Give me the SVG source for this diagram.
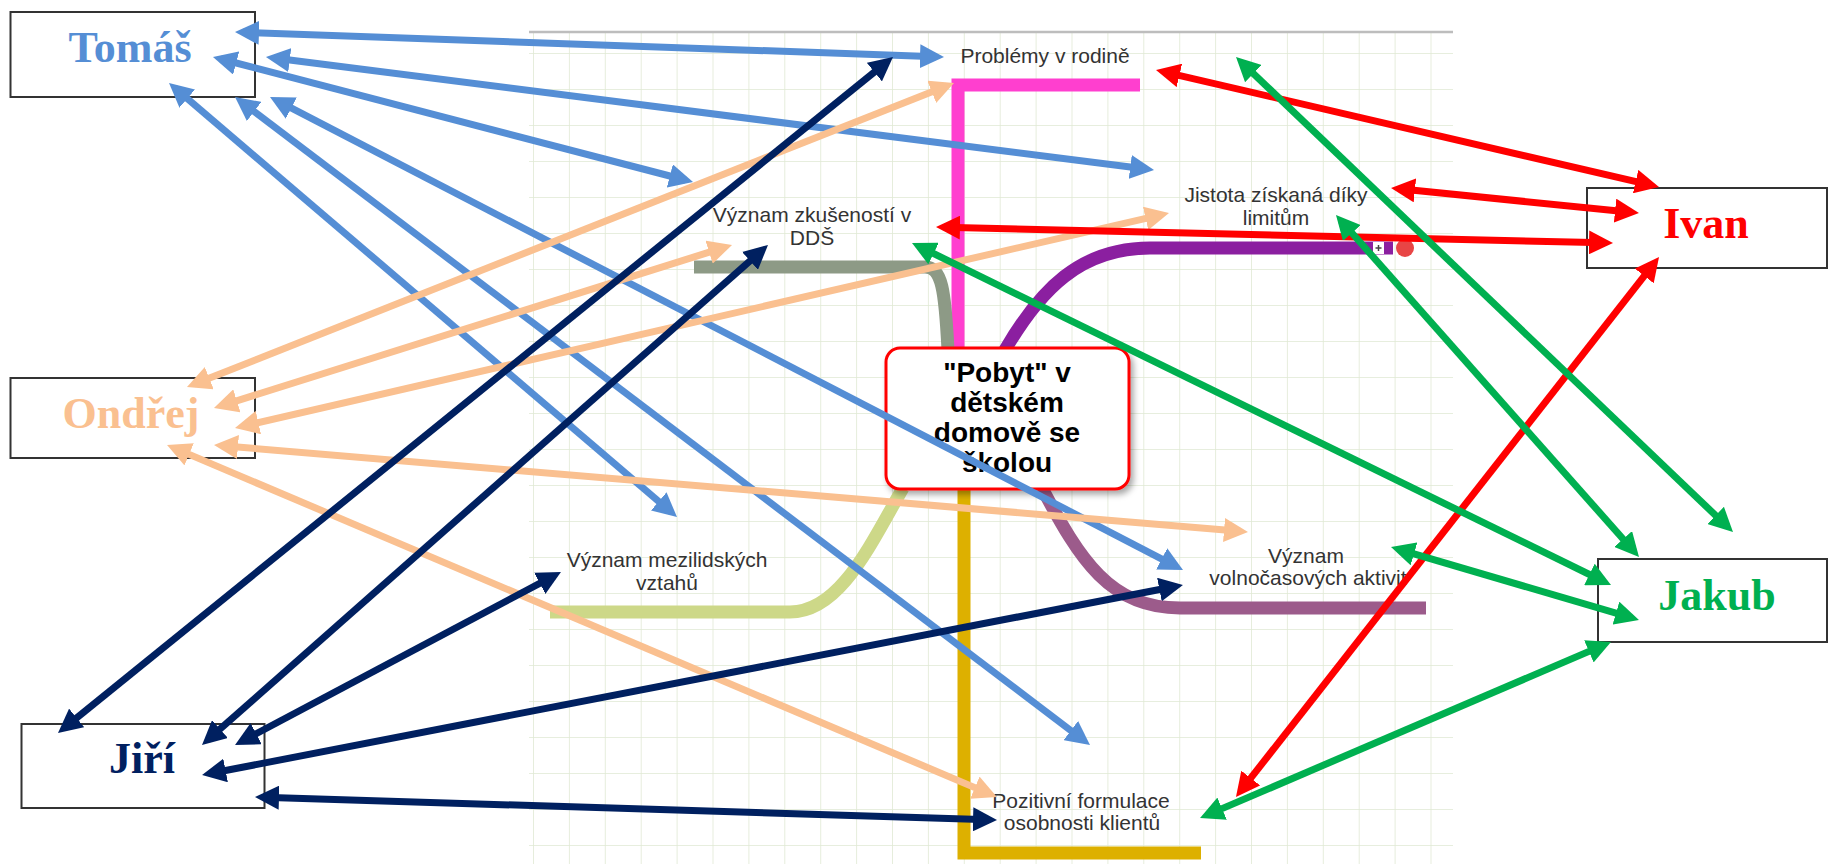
<svg xmlns="http://www.w3.org/2000/svg" width="1829" height="864" viewBox="0 0 1829 864">
<style>
.name{font-family:"Liberation Serif","Times New Roman",serif;font-weight:bold;font-size:44px;text-anchor:middle}
.nbox{fill:#fff;stroke:#333;stroke-width:2}
.lbl{font-family:"Liberation Sans",Arial,sans-serif;font-size:21px;fill:#333;text-anchor:middle}
.mm{fill:none;stroke-width:13}
.c{fill:none;stroke-width:7}
.blue{stroke:#558ED5;marker-start:url(#mB);marker-end:url(#mB)}
.peach{stroke:#FAC090;marker-start:url(#mP);marker-end:url(#mP)}
.navy{stroke:#002060;marker-start:url(#mN);marker-end:url(#mN)}
.red{stroke:#FF0000;marker-start:url(#mR);marker-end:url(#mR)}
.green{stroke:#00B050;marker-start:url(#mG);marker-end:url(#mG)}
.ctr{font-family:"Liberation Sans",Arial,sans-serif;font-weight:bold;font-size:28px;fill:#000;text-anchor:middle}
</style>
<defs>
<pattern id="grid" x="533" y="53" width="35.9" height="36" patternUnits="userSpaceOnUse">
<path d="M0,0 V36 M0,0 H35.9" stroke="#e0e9d4" stroke-width="1.6" fill="none"/>
</pattern>
<marker id="mB" markerUnits="userSpaceOnUse" markerWidth="24" markerHeight="24" refX="16" refY="12" orient="auto-start-reverse"><path d="M0,0 L24,12 L0,24 z" fill="#558ED5"/></marker>
<marker id="mP" markerUnits="userSpaceOnUse" markerWidth="24" markerHeight="24" refX="16" refY="12" orient="auto-start-reverse"><path d="M0,0 L24,12 L0,24 z" fill="#FAC090"/></marker>
<marker id="mN" markerUnits="userSpaceOnUse" markerWidth="24" markerHeight="24" refX="16" refY="12" orient="auto-start-reverse"><path d="M0,0 L24,12 L0,24 z" fill="#002060"/></marker>
<marker id="mR" markerUnits="userSpaceOnUse" markerWidth="24" markerHeight="24" refX="16" refY="12" orient="auto-start-reverse"><path d="M0,0 L24,12 L0,24 z" fill="#FF0000"/></marker>
<marker id="mG" markerUnits="userSpaceOnUse" markerWidth="24" markerHeight="24" refX="16" refY="12" orient="auto-start-reverse"><path d="M0,0 L24,12 L0,24 z" fill="#00B050"/></marker>
<filter id="sh" x="-10%" y="-10%" width="125%" height="130%"><feDropShadow dx="3" dy="4" stdDeviation="3" flood-color="#000" flood-opacity="0.35"/></filter>
</defs>
<rect width="1829" height="864" fill="#fff"/>
<g id="map-background">
<rect x="529" y="33" width="924" height="831" fill="url(#grid)"/>
<line x1="529" y1="32" x2="1453" y2="32" stroke="#bdbdbd" stroke-width="2.5"/>
<path class="mm" d="M1140,85 H958 V350" stroke="#ff3fcf"/>
<path class="mm" d="M694,267 H925 C942,267 945,290 948,350" stroke="#8d9a86"/>
<path class="mm" d="M1005,350 C1040,290 1080,248 1150,248 H1393" stroke="#8b1fa0"/>
<rect x="1373" y="242" width="11" height="12" fill="#fff"/>
<path d="M1375.5,248 H1381.5 M1378.5,245 V251" stroke="#444" stroke-width="1.5"/>
<circle cx="1405" cy="248" r="9" fill="#e84545"/>
<path class="mm" d="M550,612 H790 C840,612 870,545 903,488" stroke="#cdd888"/>
<path class="mm" d="M1042,488 C1080,560 1110,608 1180,608 H1426" stroke="#9c5b8b"/>
<path class="mm" d="M964,488 V853 H1201" stroke="#ddb000" stroke-width="12"/>
</g>
<g id="center">
<rect x="886" y="348" width="243" height="141" rx="14" fill="#fff" stroke="#ff0000" stroke-width="3" filter="url(#sh)"/>
<text class="ctr" x="1007" y="382">"Pobyt" v</text>
<text class="ctr" x="1007" y="412">dětském</text>
<text class="ctr" x="1007" y="442">domově se</text>
<text class="ctr" x="1007" y="472">školou</text>
</g>
<g id="topic-problemy"><text class="lbl" x="1045" y="63">Problémy v rodině</text></g>
<g id="topic-zkusenosti"><text class="lbl" x="812" y="222">Význam zkušeností v</text><text class="lbl" x="812" y="245">DDŠ</text></g>
<g id="topic-jistota"><text class="lbl" x="1276" y="202">Jistota získaná díky</text><text class="lbl" x="1276" y="225">limitům</text></g>
<g id="topic-mezilidske"><text class="lbl" x="667" y="567">Význam mezilidských</text><text class="lbl" x="667" y="590">vztahů</text></g>
<g id="topic-volnocas"><text class="lbl" x="1306" y="563">Význam</text><text class="lbl" x="1308" y="585">volnočasových aktivit</text></g>
<g id="topic-pozitivni"><text class="lbl" x="1081" y="808">Pozitivní formulace</text><text class="lbl" x="1082" y="830">osobnosti klientů</text></g>
<g id="tomas"><rect class="nbox" x="10.5" y="12" width="244.5" height="85"/><text class="name" x="130" y="62" fill="#558ED5">Tomáš</text></g>
<g id="ondrej"><rect class="nbox" x="10.5" y="378" width="244.5" height="80"/><text class="name" x="131" y="428" fill="#FAC090">Ondřej</text></g>
<g id="jiri"><rect class="nbox" x="21.5" y="724" width="243" height="84"/><text class="name" x="142" y="773" fill="#002060">Jiří</text></g>
<g id="ivan"><rect class="nbox" x="1587" y="188" width="240" height="80"/><text class="name" x="1706" y="238" fill="#FF0000">Ivan</text></g>
<g id="jakub"><rect class="nbox" x="1598" y="559" width="229" height="83"/><text class="name" x="1717" y="610" fill="#00B050">Jakub</text></g>
<g id="connectors">
<path class="c blue" d="M243,32.3 L936,56.7"/>
<path class="c blue" d="M273.9,58 L1146.1,169"/>
<path class="c blue" d="M220.7,59 L685.3,180"/>
<path class="c blue" d="M175.1,88.2 L670.9,511.8"/>
<path class="c blue" d="M241.4,101.8 L1083.6,740.2"/>
<path class="c blue" d="M277.1,100.7 L1175.9,566.3"/>
<path class="c peach" d="M194.4,384.1 L946.6,85.9"/>
<path class="c peach" d="M221.6,405.6 L724.4,247.4"/>
<path class="c peach" d="M242.8,426.2 L1161.2,214.8"/>
<path class="c peach" d="M222,445.7 L1240,531.3"/>
<path class="c peach" d="M174.4,448.1 L989.6,793.9"/>
<path class="c navy" d="M64.2,728 L886.8,62"/>
<path class="c navy" d="M208,739.7 L762,250.3"/>
<path class="c navy" d="M242.1,741.2 L553.9,575.8"/>
<path class="c navy" d="M209.9,773.5 L1175.1,586.5"/>
<path class="c navy" d="M263,797.2 L989,819.8"/>
<path class="c red" d="M1163.8,71.8 L1651.2,185.2"/>
<path class="c red" d="M1399,188.8 L1631,212.2"/>
<path class="c red" d="M944,227.2 L1605,242.8"/>
<path class="c red" d="M1240.9,790.7 L1654.1,263.3"/>
<path class="c green" d="M1241.8,62.5 L1727.2,526.5"/>
<path class="c green" d="M1341.3,221 L1633.7,551"/>
<path class="c green" d="M919.2,246.5 L1603.8,581.5"/>
<path class="c green" d="M1398.7,549.3 L1631.3,617.7"/>
<path class="c green" d="M1207.4,814.9 L1603.6,645.1"/>
</g>
</svg>
